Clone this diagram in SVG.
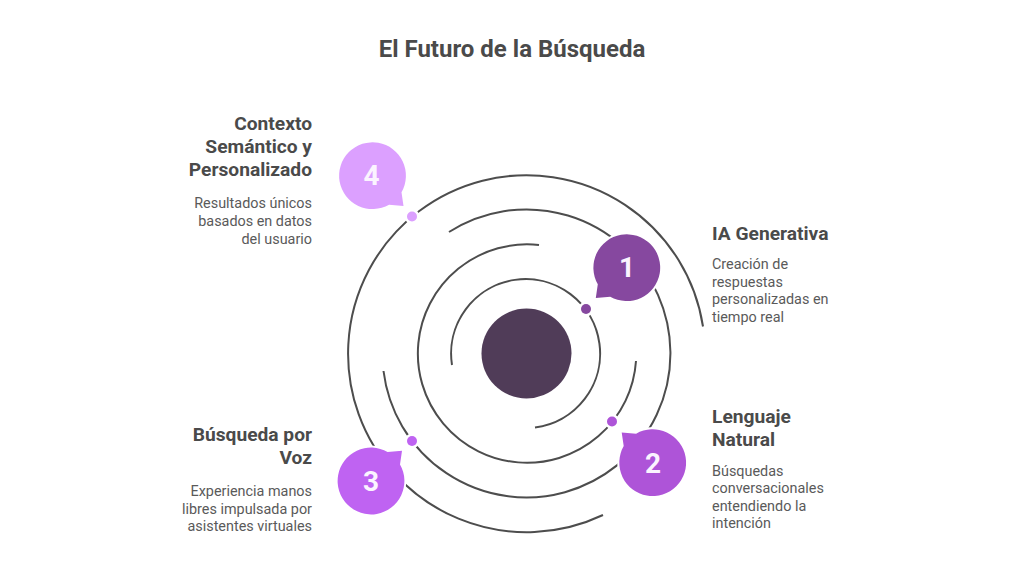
<svg xmlns="http://www.w3.org/2000/svg" width="1024" height="576" viewBox="0 0 1024 576">
<style>
text{font-family:Roboto,"Liberation Sans",sans-serif}
.title{font-size:24px;font-weight:700;fill:#4a4a4a;text-anchor:middle}
.head{font-size:19.2px;font-weight:700;fill:#4a4a4a}
.desc{font-size:14.4px;font-weight:400;fill:#5a5a5a}
.r{text-anchor:end}
.num{font-size:28px;font-weight:700;fill:#fbf4ff;text-anchor:middle}
.arc{fill:none;stroke:#4d4d4d;stroke-width:2}
.halo{stroke:#ffffff;stroke-width:4;paint-order:stroke}
.dot{stroke:#ffffff;stroke-width:5;paint-order:stroke}
</style>
<defs>
<path id="bubble" d="M-29 16.600A33.400 33.400 0 1 1-16.600 29L-31 30.300Z"/>
</defs>
<rect width="1024" height="576" fill="#ffffff"/>
<text class="title" x="512" y="57">El Futuro de la Búsqueda</text>
<g id="connectors">
<path class="arc" d="M703 326.500A178.500 178.500 0 1 0 603 515"/>
<path class="arc" d="M449 232A144 144 0 1 1 383.500 371"/>
<path class="arc" d="M539 245A109.200 109.200 0 1 0 636 361"/>
<path class="arc" d="M452 365A74.500 74.500 0 1 1 535 427.500"/>
</g>
<g id="center"><circle cx="526.500" cy="353.500" r="45" fill="#503c58"/></g>
<g id="node-1">
<circle class="dot" cx="586" cy="309" r="5" fill="#86489f"/>
<use href="#bubble" transform="translate(626.800 267.700)" fill="#86489f" class="halo"/>
<text class="num" x="627" y="277">1</text>
<text class="head" x="712" y="239.500">IA Generativa</text>
<text class="desc" x="712" y="269">Creación de</text>
<text class="desc" x="712" y="286.500">respuestas</text>
<text class="desc" x="712" y="304">personalizadas en</text>
<text class="desc" x="712" y="321.500">tiempo real</text>
</g>
<g id="node-2">
<circle class="dot" cx="612" cy="421.500" r="5" fill="#ae54d8"/>
<use href="#bubble" transform="translate(652.700 462.700) scale(1 -1)" fill="#ae54d8" class="halo"/>
<text class="num" x="653" y="472.500">2</text>
<text class="head" x="712" y="423">Lenguaje</text>
<text class="head" x="712" y="446">Natural</text>
<text class="desc" x="712" y="475.500">Búsquedas</text>
<text class="desc" x="712" y="493">conversacionales</text>
<text class="desc" x="712" y="510.500">entendiendo la</text>
<text class="desc" x="712" y="528">intención</text>
</g>
<g id="node-3">
<circle class="dot" cx="412" cy="441" r="5" fill="#bf63f2"/>
<use href="#bubble" transform="translate(371 481) scale(-1 -1)" fill="#bf63f2" class="halo"/>
<text class="num" x="371" y="491">3</text>
<text class="head r" x="312" y="440.500">Búsqueda por</text>
<text class="head r" x="312" y="463.500">Voz</text>
<text class="desc r" x="312" y="496">Experiencia manos</text>
<text class="desc r" x="312" y="513.500">libres impulsada por</text>
<text class="desc r" x="312" y="531">asistentes virtuales</text>
</g>
<g id="node-4">
<circle class="dot" cx="412" cy="216.500" r="5" fill="#dca0ff"/>
<use href="#bubble" transform="translate(372.500 175.700) scale(-1 1)" fill="#dca0ff" class="halo"/>
<text class="num" x="371.500" y="185">4</text>
<text class="head r" x="312" y="130">Contexto</text>
<text class="head r" x="312" y="153">Semántico y</text>
<text class="head r" x="312" y="176">Personalizado</text>
<text class="desc r" x="312" y="208">Resultados únicos</text>
<text class="desc r" x="312" y="226">basados en datos</text>
<text class="desc r" x="312" y="243.500">del usuario</text>
</g>
</svg>
